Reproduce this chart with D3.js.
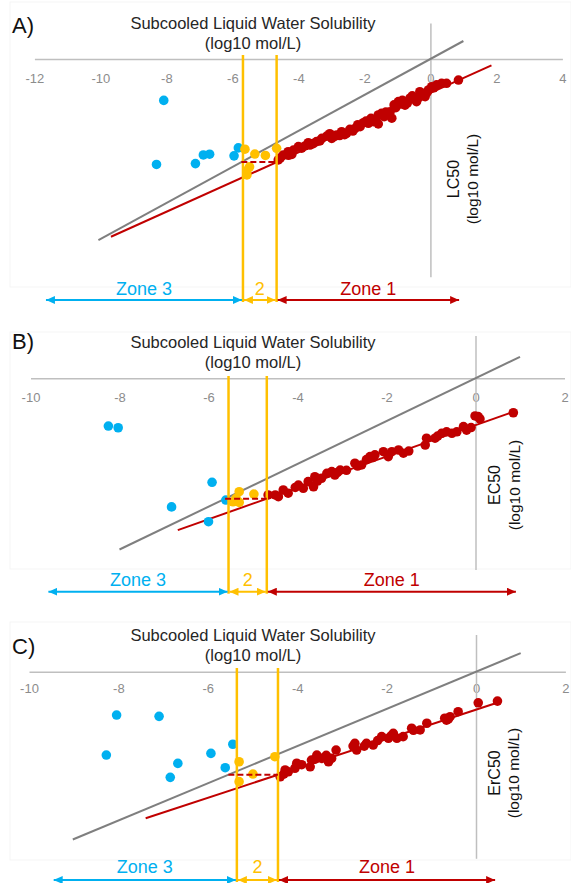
<!DOCTYPE html>
<html>
<head>
<meta charset="utf-8">
<script src="https://cdn.jsdelivr.net/npm/d3@7"></script>
<style>
  html, body { margin: 0; padding: 0; background: #ffffff; }
  svg { display: block; font-family: "Liberation Sans", Arial, sans-serif; }
</style>
</head>
<body>
<svg id="chart" width="571" height="883"></svg>
<script>
// ---------------- DATA ----------------
const panelLabels = ["A)", "B)", "C)"];
const xTitleLines = ["Subcooled Liquid Water Solubility", "(log10 mol/L)"];
const yTitles = ["LC50", "EC50", "ErC50"];
const yTitleUnit = "(log10 mol/L)";
const zoneNames = ["Zone 3", "2", "Zone 1"];

const xTicksA = [-12, -10, -8, -6, -4, -2, 0, 2, 4];
const xTicksB = [-10, -8, -6, -4, -2, 0, 2];
const xTicksC = [-10, -8, -6, -4, -2, 0, 2];

// Zone 3 (cyan) points [solubility, effect]
const zone3A = [[-8.08,-2.30],[-8.30,-5.86],[-7.12,-5.81],[-6.88,-5.33],[-6.69,-5.29],[-5.95,-5.38],[-5.82,-4.94]];
const zone3B = [[-8.25,-2.23],[-8.03,-2.31],[-5.92,-4.86],[-6.83,-6.01],[-6.00,-6.70],[-5.61,-5.69]];
const zone3C = [[-8.04,-2.33],[-7.09,-2.40],[-8.27,-4.48],[-6.67,-4.93],[-6.84,-5.68],[-5.93,-4.39],[-5.61,-5.16],[-5.44,-3.90]];

// Zone 2 (yellow) points
const zone2A = [[-5.62,-5.01],[-5.32,-5.28],[-5.00,-5.36],[-4.66,-4.96],[-5.48,-5.99],[-5.56,-6.44],[-5.56,-6.20]];
const zone2B = [[-5.31,-5.30],[-4.98,-5.41],[-5.45,-5.77],[-5.31,-5.80],[-5.38,-5.61]];
const zone2C = [[-5.30,-4.84],[-4.99,-5.50],[-5.30,-5.91],[-4.50,-4.57]];

// Zone 1 (red) points
const zone1A = [[-4.61,-5.61],[-4.46,-5.33],[-4.31,-5.15],[-4.15,-5.06],[-4.00,-4.87],[-3.80,-4.83],[-3.65,-4.78],
  [-3.45,-4.59],[-3.29,-4.41],[-3.14,-4.28],[-2.99,-4.41],[-2.84,-4.22],[-2.69,-4.04],[-2.54,-4.13],[-2.44,-3.91],
  [-2.28,-3.85],[-2.13,-3.76],[-2.03,-3.54],[-1.88,-3.57],[-1.73,-3.48],[-1.58,-3.11],[-1.58,-3.61],[-1.48,-3.02],
  [-1.22,-2.93],[-1.17,-3.29],[-0.97,-2.37],[-0.77,-2.56],[-0.62,-2.18],[-0.42,-2.37],[-0.32,-1.82],[-0.16,-2.09],
  [-0.06,-1.72],[0.04,-1.54],[0.19,-1.44],[0.34,-1.35],[0.49,-1.35],[0.85,-1.17],
  [-4.30,-5.35],[-3.90,-4.95],[-3.55,-4.70],[-2.90,-4.30],[-2.60,-4.20],[-1.95,-3.45],[-1.35,-2.95],[-1.05,-2.70],
  [-0.90,-2.50],[-0.50,-2.20],[-0.25,-1.95],[0.10,-1.60],[-4.55,-5.50],
  [-4.20,-5.30],[-3.70,-4.65],[-3.35,-4.55],[-3.05,-4.15],[-2.75,-4.25],[-2.35,-4.00],[-2.20,-3.65],[-1.80,-3.30],
  [-1.65,-3.35],[-1.40,-3.20],[-1.10,-2.55],[-0.85,-2.30],[-0.70,-2.45],[-0.55,-2.05],[-0.35,-2.15],[-0.10,-1.85]];
const zone1B = [[-4.66,-5.45],[-4.43,-5.53],[-4.32,-5.22],[-4.21,-5.37],[-3.98,-4.99],[-3.87,-5.14],[-3.76,-4.83],
  [-3.64,-5.07],[-3.61,-4.60],[-3.46,-4.67],[-3.34,-4.44],[-3.23,-4.36],[-3.16,-4.52],[-3.04,-4.29],[-2.71,-3.97],
  [-2.56,-4.05],[-2.37,-3.66],[-2.26,-3.58],[-2.07,-3.43],[-1.96,-3.66],[-1.88,-3.43],[-1.73,-3.35],[-1.62,-3.50],
  [-1.13,-3.12],[-1.10,-2.80],[-0.91,-2.80],[-0.76,-2.57],[-0.65,-2.50],[-0.53,-2.57],[-0.42,-2.50],[-0.27,-2.26],
  [-0.20,-2.42],[-0.01,-1.76],[0.06,-1.79],[0.85,-1.61],
  [-4.50,-5.45],[-4.05,-5.10],[-3.55,-4.80],[-3.10,-4.40],[-2.90,-4.30],[-2.65,-4.10],[-2.45,-3.80],[-2.30,-3.70],
  [-1.50,-3.40],[-0.85,-2.70],[-0.10,-2.30],[0.10,-1.90]];
const zone1C = [[-4.38,-5.65],[-4.27,-5.28],[-4.20,-5.38],[-4.05,-5.19],[-4.01,-4.92],[-3.71,-5.11],[-3.68,-4.75],
  [-3.56,-4.48],[-3.45,-4.66],[-3.30,-4.84],[-3.23,-4.66],[-3.13,-4.21],[-2.71,-3.85],[-2.67,-4.21],[-2.45,-3.85],
  [-2.30,-3.94],[-2.11,-3.49],[-1.96,-3.58],[-1.85,-3.31],[-1.77,-3.58],[-1.63,-3.49],[-1.44,-3.04],[-1.25,-3.13],
  [-1.10,-2.77],[-0.66,-2.60],[-0.58,-2.42],[-0.40,-2.15],[0.05,-1.67],[0.48,-1.58],
  [-4.30,-5.50],[-3.90,-5.00],[-3.60,-4.70],[-3.35,-4.50],[-2.75,-4.00],[-2.50,-4.00],[-2.20,-3.70],[-1.90,-3.45],
  [-1.40,-3.15],[-0.70,-2.50],[-0.62,-2.55]];

// regression fit: [slope, intercept, xStart, xEnd]
const fitA = [0.826, -1.88, -9.68, 1.85];
const fitB = [0.733, -2.19, -6.69, 0.854];
const fitC = [0.790, -2.04, -7.39, 0.472];

// 1:1 line extent [xStart, xEnd]
const oneToOneA = [-10.06, 1.0];
const oneToOneB = [-8.0, 1.0];
const oneToOneC = [-9.02, 1.0];

// zone boundaries [zone3|2, 2|zone1]
const boundsA = [-5.68, -4.66];
const boundsB = [-5.55, -4.69];
const boundsC = [-5.35, -4.43];

// zone arrow outer ends [left end of Zone 3, right end of Zone 1]
const arrowEndsA = [-11.68, 0.90];
const arrowEndsB = [-9.62, 0.93];
const arrowEndsC = [-9.47, 0.45];

// ---------------- LAYOUT ----------------
const colors = { zone3: "#00b0f0", zone2: "#ffc000", zone1: "#c00000", oneToOne: "#7f7f7f", axis: "#bfbfbf", tick: "#8c8c8c", text: "#262626" };

const panels = [
  { label: panelLabels[0], yTitle: yTitles[0], ticks: xTicksA, z3: zone3A, z2: zone2A, z1: zone1A, fit: fitA, one: oneToOneA, bounds: boundsA, ends: arrowEndsA,
    xDom: [-12, 4], xRange: [34.4, 562.4], yDom: [2, -12.1], yRange: [23, 276.8], tickPad: 15,
    frame: [10, 2, 571, 287], titleY: 23, labelY: 25, yTitleX: 453, yUnitX: 473, yTitleY: 179, arrowY: 300, zoneTextY: 289, vTop: 55 },
  { label: panelLabels[1], yTitle: yTitles[1], ticks: xTicksB, z3: zone3B, z2: zone2B, z1: zone1B, fit: fitB, one: oneToOneB, bounds: boundsB, ends: arrowEndsB,
    xDom: [-10, 2], xRange: [30.5, 564.5], yDom: [2, -8.93], yRange: [335.5, 569.4], tickPad: 14,
    frame: [10, 332, 571, 569], titleY: 342.3, labelY: 341.7, yTitleX: 494, yUnitX: 515, yTitleY: 485, arrowY: 591.7, zoneTextY: 580, vTop: 376 },
  { label: panelLabels[2], yTitle: yTitles[2], ticks: xTicksC, z3: zone3C, z2: zone2C, z1: zone1C, fit: fitC, one: oneToOneC, bounds: boundsC, ends: arrowEndsC,
    xDom: [-10, 2], xRange: [29, 565.4], yDom: [2, -10.03], yRange: [634.5, 858.3], tickPad: 12.5,
    frame: [10, 622, 571, 860], titleY: 635, labelY: 646.7, yTitleX: 494, yUnitX: 514, yTitleY: 773, arrowY: 880, zoneTextY: 866.7, vTop: 668 }
];

const svg = d3.select("#chart");
const defs = svg.append("defs");
[["zone3", colors.zone3], ["zone2", colors.zone2], ["zone1", colors.zone1]].forEach(([k, c]) => {
  defs.append("marker").attr("id", "arr-" + k)
    .attr("markerUnits", "userSpaceOnUse").attr("markerWidth", 9).attr("markerHeight", 8)
    .attr("viewBox", "0 0 9 8").attr("refX", 9).attr("refY", 4).attr("orient", "auto-start-reverse")
    .append("path").attr("d", "M0,0 L9,4 L0,8 Z").attr("fill", c);
});

panels.forEach(p => {
  const g = svg.append("g");
  const x = d3.scaleLinear().domain(p.xDom).range(p.xRange);
  const y = d3.scaleLinear().domain(p.yDom).range(p.yRange);

  // faint frame
  g.append("rect").attr("x", p.frame[0]).attr("y", p.frame[1])
    .attr("width", p.frame[2] - p.frame[0]).attr("height", p.frame[3] - p.frame[1])
    .attr("fill", "none").attr("stroke", "#f5f5f5").attr("stroke-width", 1);

  // horizontal axis at y = 0
  const xAxis = d3.axisBottom(x).tickValues(p.ticks).tickSize(0).tickSizeOuter(0)
    .tickPadding(p.tickPad).tickFormat(d => String(d));
  const gx = g.append("g").attr("transform", `translate(0,${y(0)})`).call(xAxis);
  gx.select(".domain").attr("stroke", colors.axis).attr("stroke-width", 1.5);
  gx.selectAll("text").attr("fill", colors.tick).attr("font-size", 13)
    .attr("font-family", "Liberation Sans, Arial, sans-serif");

  // vertical axis at x = 0
  const yAxis = d3.axisRight(y).tickValues([]).tickSize(0).tickSizeOuter(0);
  const gy = g.append("g").attr("transform", `translate(${x(0)},0)`).call(yAxis);
  gy.select(".domain").attr("stroke", colors.axis).attr("stroke-width", 1.5);

  // 1:1 line
  g.append("line").attr("x1", x(p.one[0])).attr("y1", y(p.one[0]))
    .attr("x2", x(p.one[1])).attr("y2", y(p.one[1]))
    .attr("stroke", colors.oneToOne).attr("stroke-width", 2);

  // fit line
  const [m, b, f0, f1] = p.fit;
  g.append("line").attr("x1", x(f0)).attr("y1", y(m * f0 + b))
    .attr("x2", x(f1)).attr("y2", y(m * f1 + b))
    .attr("stroke", colors.zone1).attr("stroke-width", 2);

  // points
  const dot = (arr, c) => g.append("g").selectAll("circle").data(arr).join("circle")
    .attr("cx", d => x(d[0])).attr("cy", d => y(d[1])).attr("r", 4.8).attr("fill", c);
  dot(p.z3, colors.zone3);
  dot(p.z1, colors.zone1);
  dot(p.z2, colors.zone2);

  // zone boundary verticals
  p.bounds.forEach(bx => {
    g.append("line").attr("x1", x(bx)).attr("x2", x(bx))
      .attr("y1", p.vTop).attr("y2", p.arrowY + 2)
      .attr("stroke", colors.zone2).attr("stroke-width", 2.5);
  });

  // dashed plateau line
  const plateau = m * p.bounds[1] + b;
  g.append("line").attr("x1", x(plateau)).attr("x2", x(p.bounds[1]))
    .attr("y1", y(plateau)).attr("y2", y(plateau))
    .attr("stroke", colors.zone1).attr("stroke-width", 2).attr("stroke-dasharray", "6,3");

  // zone arrows
  const spans = [[p.ends[0], p.bounds[0], "zone3"], [p.bounds[0], p.bounds[1], "zone2"], [p.bounds[1], p.ends[1], "zone1"]];
  spans.forEach(([a, c, k], i) => {
    g.append("line").attr("x1", x(a) + 1).attr("x2", x(c) - 1)
      .attr("y1", p.arrowY).attr("y2", p.arrowY)
      .attr("stroke", colors[k]).attr("stroke-width", 2)
      .attr("marker-start", `url(#arr-${k})`).attr("marker-end", `url(#arr-${k})`);
    g.append("text").attr("x", (x(a) + x(c)) / 2)
      .attr("y", p.zoneTextY).attr("dy", "0.35em").attr("text-anchor", "middle")
      .attr("font-size", 18).attr("fill", colors[k]).text(zoneNames[i]);
  });

  // axis title
  xTitleLines.forEach((t, i) => {
    g.append("text").attr("x", 253).attr("y", p.titleY + i * 20.3).attr("dy", "0.35em")
      .attr("text-anchor", "middle").attr("font-size", 16.5).attr("fill", colors.text).text(t);
  });

  // panel label
  g.append("text").attr("x", 12).attr("y", p.labelY).attr("dy", "0.35em")
    .attr("font-size", 22).attr("fill", "#111").text(p.label);

  // y title (rotated)
  g.append("text").attr("transform", `translate(${p.yTitleX},${p.yTitleY}) rotate(-90)`)
    .attr("dy", "0.35em").attr("text-anchor", "middle").attr("font-size", 16)
    .attr("fill", "#111").text(p.yTitle);
  g.append("text").attr("transform", `translate(${p.yUnitX},${p.yTitleY}) rotate(-90)`)
    .attr("dy", "0.35em").attr("text-anchor", "middle").attr("font-size", 15.5)
    .attr("fill", "#111").text(yTitleUnit);
});
</script>
</body>
</html>
